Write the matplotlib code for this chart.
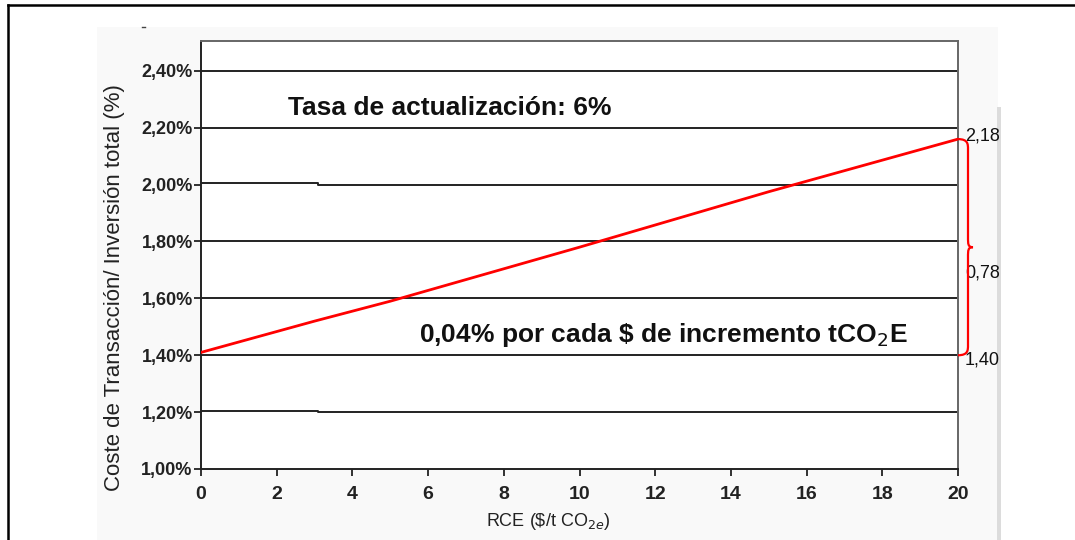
import matplotlib
matplotlib.use("Agg")
import matplotlib.pyplot as plt
from matplotlib.path import Path
from matplotlib.patches import PathPatch, Rectangle
from matplotlib.lines import Line2D
from matplotlib.ticker import FuncFormatter

plt.rcParams['font.family'] = ['Liberation Sans', 'DejaVu Sans']

# ---- data ----
rce = [0, 3, 5, 10, 15, 20]
coste = [1.41, 1.52, 1.59, 1.78, 1.975, 2.16]
x_ticks = [0, 2, 4, 6, 8, 10, 12, 14, 16, 18, 20]
y_ticks = [1.00, 1.20, 1.40, 1.60, 1.80, 2.00, 2.20, 2.40]
grid_full = [1.40, 1.60, 1.80, 2.20, 2.40]
grid_step = [1.20, 2.00]
step_x = 3.1
brace_labels = ["2,18", "0,78", "1,40"]
brace_top, brace_bottom = 2.16, 1.40
title_txt = "Tasa de actualización: 6%"
note_txt = "0,04% por cada \\$ de incremento tCO$_2$E"

W, H = 1075, 540
fig = plt.figure(figsize=(W / 100, H / 100), dpi=100)
fig.patch.set_facecolor('white')

# light panel background and grey bar
fig.add_artist(Rectangle((97 / W, 0), (998 - 97) / W, 1 - 27 / H,
                         transform=fig.transFigure, facecolor='#f9f9f9',
                         edgecolor='none', zorder=0))
fig.add_artist(Rectangle((997 / W, 0), 4 / W, 1 - 107 / H,
                         transform=fig.transFigure, facecolor='#dcdcdc',
                         edgecolor='none', zorder=0))
# outer frame (top and left)
fig.add_artist(Line2D([8 / W, 1.0], [1 - 5 / H, 1 - 5 / H], transform=fig.transFigure,
                      color='black', lw=1.8))
fig.add_artist(Line2D([8 / W, 8 / W], [0, 1 - 5 / H], transform=fig.transFigure,
                      color='black', lw=1.8))
fig.add_artist(Line2D([142 / W, 145 / W], [1 - 27 / H, 1 - 27 / H], transform=fig.transFigure,
                      color='#444444', lw=1))

ax = fig.add_axes([201 / W, 1 - 469 / H, (958 - 201) / W, (469 - 41) / H])
ax.set_facecolor('white')
ax.set_xlim(0, 20)
ax.set_ylim(1.0, 2.505)

for y in grid_full:
    ax.plot([0, 20], [y, y], color='#222222', lw=1.4, zorder=1)
for y in grid_step:
    ax.plot([0, step_x, step_x, 20], [y + 0.004, y + 0.004, y, y],
            color='#222222', lw=1.4, zorder=1)

ax.plot(rce, coste, color='#ff0000', lw=2.0, zorder=3)

for side in ['left', 'bottom']:
    ax.spines[side].set_color('#222222')
    ax.spines[side].set_linewidth(1.4)
for side in ['top', 'right']:
    ax.spines[side].set_color('#666666')
    ax.spines[side].set_linewidth(1.4)

ax.set_xticks(x_ticks)
ax.set_yticks(y_ticks)
ax.yaxis.set_major_formatter(FuncFormatter(lambda v, p: f"{v:.2f}".replace('.', ',') + '%'))
ax.tick_params(axis='both', direction='out', length=5, width=1.3, color='#222222',
               labelcolor='#222222')
ax.tick_params(axis='x', pad=7, labelsize=14)
ax.tick_params(axis='y', pad=1, labelsize=13)
for lab in ax.get_xticklabels() + ax.get_yticklabels():
    lab.set_fontweight('bold')

ax.set_xlabel("RCE (\\$/t CO$_{2e}$)", fontsize=13, color='#222222')
ax.xaxis.set_label_coords(0.458, -0.098)
ax.set_ylabel("Coste de Transacción/ Inversión total (%)", fontsize=16, color='#222222')
ax.yaxis.set_label_coords(-0.100, 0.425)

ax.text(0.115, 0.843, title_txt, transform=ax.transAxes, fontsize=19, fontweight='bold',
        color='#111111', va='center', ha='left')
ax.text(0.288, 0.312, note_txt, transform=ax.transAxes, fontsize=19, fontweight='bold',
        color='#111111', va='center', ha='left')

# curly brace
px = 20 / (958 - 201)
mid = (brace_top + brace_bottom) / 2
x0 = 20
x1 = 20 + 10 * px
x2 = 20 + 15 * px
d = 0.035
verts = [(x0, brace_top),
         (x1, brace_top), (x1, brace_top - d / 2), (x1, brace_top - d),
         (x1, mid + d),
         (x1, mid + 0.01), (x1, mid), (x2, mid),
         (x1, mid), (x1, mid - 0.01), (x1, mid - d),
         (x1, brace_bottom + d),
         (x1, brace_bottom + d / 2), (x1, brace_bottom), (x0, brace_bottom)]
codes = [Path.MOVETO,
         Path.CURVE4, Path.CURVE4, Path.CURVE4,
         Path.LINETO,
         Path.CURVE4, Path.CURVE4, Path.CURVE4,
         Path.CURVE4, Path.CURVE4, Path.CURVE4,
         Path.LINETO,
         Path.CURVE4, Path.CURVE4, Path.CURVE4]
ax.add_patch(PathPatch(Path(verts, codes), facecolor='none', edgecolor='#ff0000',
                       lw=1.6, clip_on=False, zorder=4))

lab_x = 20 + 7 * px
ax.text(lab_x, brace_top + 0.012, brace_labels[0], fontsize=13, color='#111111',
        va='center', ha='left', clip_on=False)
ax.text(lab_x, mid - 0.09, brace_labels[1], fontsize=13, color='#111111',
        va='center', ha='left', clip_on=False)
ax.text(lab_x, brace_bottom - 0.015, brace_labels[2], fontsize=13, color='#111111',
        va='center', ha='left', clip_on=False)

fig.savefig("out.png", dpi=100)
